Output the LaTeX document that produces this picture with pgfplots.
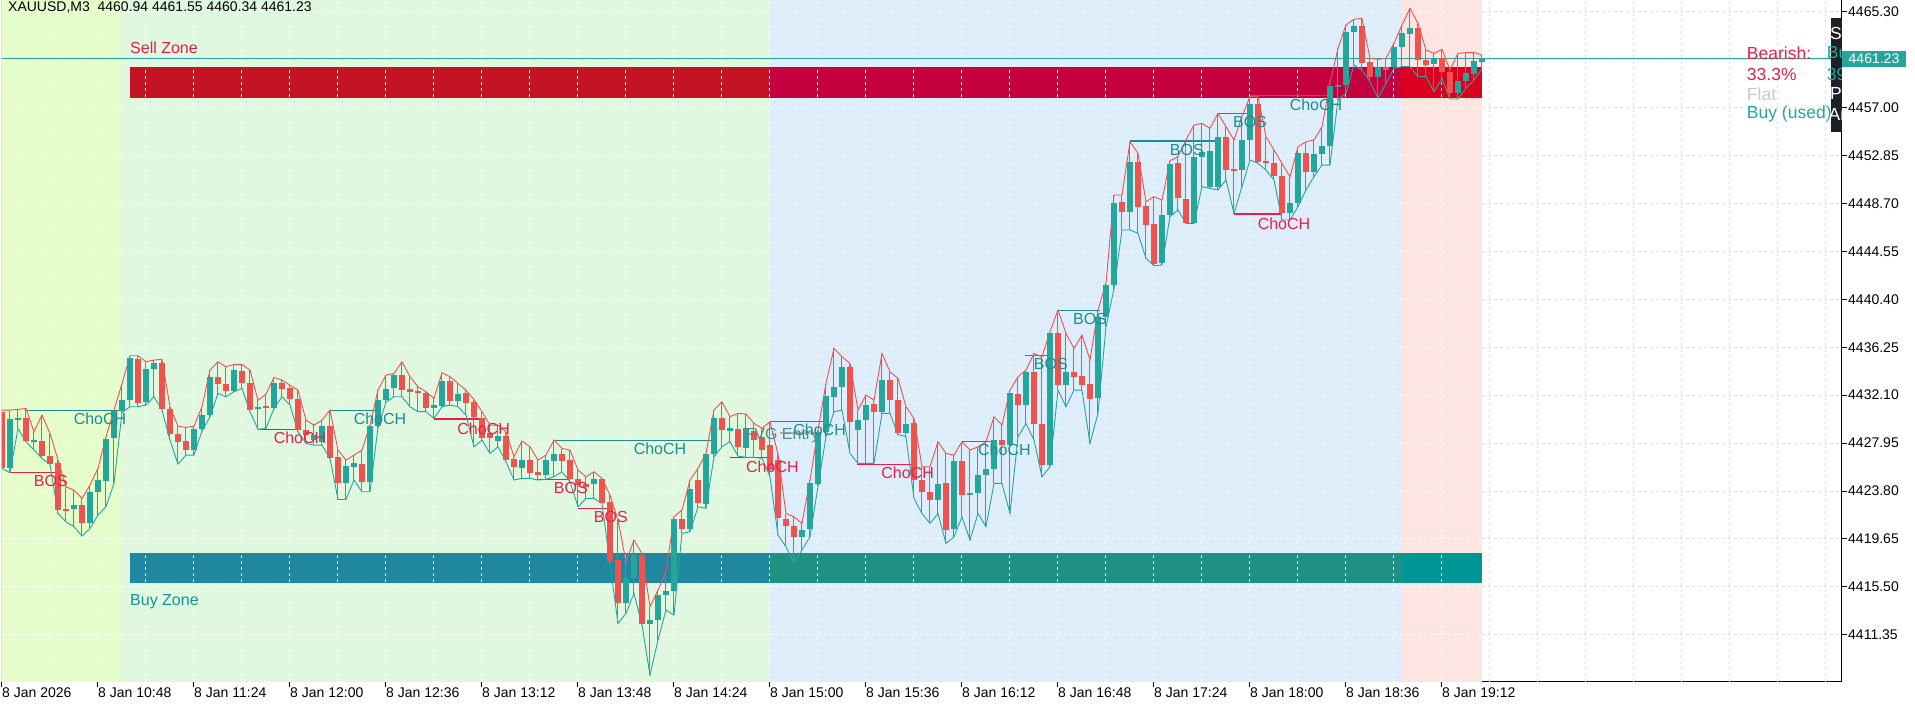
\documentclass[border=0pt]{standalone}
\usepackage{pgfplots}
\pgfplotsset{compat=1.18}
\usepackage{pgfplotstable}
\usepackage{fontspec}
\setmainfont{Liberation Sans}
\definecolor{bgY}{RGB}{229,252,203}
\definecolor{bgG}{RGB}{224,247,224}
\definecolor{bgB}{RGB}{222,237,250}
\definecolor{bgP}{RGB}{253,230,226}
\definecolor{bull}{HTML}{26A69A}
\definecolor{bear}{HTML}{EF5350}
\definecolor{envR}{RGB}{240,80,80}
\definecolor{envT}{RGB}{38,166,154}
\definecolor{sz1}{RGB}{196,20,36}
\definecolor{sz2}{RGB}{196,0,62}
\definecolor{sz3}{RGB}{220,0,32}
\definecolor{bz1}{RGB}{31,135,160}
\definecolor{bz2}{RGB}{31,145,130}
\definecolor{bz3}{RGB}{0,150,150}
\definecolor{lblT}{RGB}{30,140,140}
\definecolor{lblR}{RGB}{232,30,75}
\definecolor{gridG}{RGB}{228,228,228}
\definecolor{fvg}{RGB}{80,140,140}
\definecolor{panel}{RGB}{30,32,40}
\definecolor{flat}{RGB}{200,200,200}
\definecolor{buyT}{RGB}{20,150,150}

\pgfplotstableread{
i o h l c
-12 4430.67 4430.81 4425.76 4425.82
-11 4425.82 4430.81 4425.38 4430.03
-10 4430.03 4430.87 4429.22 4430.10
-9 4430.17 4430.95 4428.07 4428.15
-8 4428.12 4428.93 4427.35 4428.18
-7 4428.12 4430.38 4426.62 4426.83
-6 4426.88 4428.79 4426.11 4426.16
-5 4426.22 4426.48 4421.86 4422.15
-4 4422.24 4424.17 4421.14 4422.18
-3 4422.21 4423.88 4420.71 4422.58
-2 4422.58 4423.16 4419.90 4421.05
-1 4421.05 4424.32 4420.56 4423.74
0 4423.74 4425.76 4421.72 4424.75
1 4424.69 4428.50 4422.44 4428.36
2 4428.36 4430.81 4424.46 4430.75
3 4430.75 4433.10 4430.60 4431.68
4 4431.68 4435.51 4431.10 4435.34
5 4435.28 4435.51 4431.10 4431.44
6 4431.53 4435.00 4431.24 4434.36
7 4434.33 4435.14 4431.96 4434.85
8 4434.91 4435.20 4430.81 4430.95
9 4430.95 4431.10 4428.21 4428.79
10 4428.79 4429.42 4426.13 4428.07
11 4428.12 4429.31 4426.91 4427.35
12 4427.35 4429.42 4426.91 4429.14
13 4429.14 4431.10 4429.00 4430.38
14 4430.38 4434.27 4430.23 4433.64
15 4433.64 4434.99 4432.25 4433.03
16 4433.03 4434.56 4431.96 4432.48
17 4432.48 4434.76 4432.40 4434.27
18 4434.22 4434.76 4432.69 4433.20
19 4433.20 4434.27 4430.67 4430.87
20 4430.87 4431.67 4429.14 4431.10
21 4431.16 4432.19 4429.22 4431.01
22 4431.01 4433.64 4430.95 4433.18
23 4433.18 4433.40 4431.96 4432.69
24 4432.74 4432.97 4431.24 4431.82
25 4431.82 4432.54 4428.93 4429.08
26 4429.08 4429.94 4427.92 4428.65
27 4428.21 4429.51 4427.78 4428.65
28 4428.07 4429.94 4427.78 4429.42
29 4429.42 4430.81 4426.62 4426.71
30 4426.71 4427.35 4423.07 4424.52
31 4424.52 4426.48 4423.07 4425.96
32 4425.90 4426.91 4424.75 4426.19
33 4426.19 4427.35 4423.74 4424.60
34 4424.60 4429.51 4423.74 4429.42
35 4429.42 4432.54 4429.30 4431.68
36 4431.68 4433.84 4431.50 4432.69
37 4432.69 4433.98 4431.96 4433.84
38 4433.84 4434.99 4431.96 4432.54
39 4432.60 4433.70 4431.10 4432.40
40 4432.48 4432.83 4430.67 4432.25
41 4432.31 4432.40 4430.67 4430.95
42 4430.95 4431.82 4430.09 4431.21
43 4431.21 4434.04 4431.10 4433.32
44 4433.32 4433.70 4431.24 4431.62
45 4431.62 4433.12 4431.10 4432.19
46 4432.25 4432.54 4430.38 4431.44
47 4431.47 4431.73 4427.63 4430.17
48 4430.17 4430.67 4428.21 4428.36
49 4428.79 4429.51 4427.06 4428.36
50 4428.15 4429.51 4427.63 4428.59
51 4428.59 4428.93 4426.34 4426.54
52 4426.54 4426.77 4424.75 4425.85
53 4425.82 4428.13 4424.90 4426.48
54 4426.48 4427.64 4424.90 4425.39
55 4425.47 4426.48 4424.75 4425.18
56 4425.18 4426.92 4424.81 4426.48
57 4426.43 4428.22 4425.04 4427.00
58 4427.00 4427.49 4425.47 4426.43
59 4426.48 4427.35 4424.61 4424.81
60 4424.81 4425.62 4422.44 4424.32
61 4424.41 4425.04 4423.16 4424.12
62 4424.41 4425.47 4423.16 4424.81
63 4424.81 4424.90 4422.73 4422.79
64 4422.88 4423.45 4417.50 4417.68
65 4417.83 4421.29 4412.34 4414.13
66 4414.13 4417.68 4413.21 4416.24
67 4416.24 4419.56 4414.94 4418.26
68 4418.26 4418.40 4412.20 4412.29
69 4412.29 4413.79 4407.87 4412.63
70 4412.63 4415.23 4410.90 4414.80
71 4414.80 4416.82 4413.50 4415.17
72 4415.17 4421.58 4413.06 4421.43
73 4421.43 4422.16 4420.13 4420.51
74 4420.51 4424.75 4420.28 4424.03
75 4424.75 4425.76 4422.44 4422.73
76 4422.73 4427.06 4422.30 4427.00
77 4427.00 4430.81 4426.77 4430.09
78 4430.09 4431.53 4427.64 4429.08
79 4429.02 4430.24 4428.07 4429.23
80 4429.17 4430.52 4426.83 4427.64
81 4427.55 4430.47 4426.71 4429.23
82 4429.02 4429.66 4426.71 4428.22
83 4428.50 4429.23 4426.63 4427.35
84 4427.78 4429.80 4425.04 4425.62
85 4426.48 4427.00 4420.00 4421.43
86 4421.43 4421.86 4418.97 4420.76
87 4420.80 4421.57 4417.57 4419.84
88 4419.84 4421.00 4418.70 4420.48
89 4420.48 4424.75 4419.84 4424.46
90 4424.46 4429.08 4424.20 4428.93
91 4428.93 4433.12 4428.50 4432.02
92 4431.96 4436.15 4430.66 4432.83
93 4432.83 4435.42 4430.81 4434.56
94 4434.56 4434.85 4427.06 4429.80
95 4429.08 4430.81 4426.19 4430.00
96 4429.94 4432.11 4426.19 4431.24
97 4431.33 4431.67 4426.19 4430.66
98 4430.66 4435.71 4430.52 4433.40
99 4433.40 4434.13 4430.52 4431.67
100 4431.67 4433.55 4428.70 4428.85
101 4428.85 4431.10 4428.50 4429.65
102 4429.65 4430.09 4423.16 4424.75
103 4424.75 4425.90 4421.86 4423.74
104 4423.74 4425.90 4421.00 4423.07
105 4423.07 4428.07 4421.86 4424.46
106 4424.46 4427.06 4419.26 4420.42
107 4420.56 4426.91 4419.84 4426.42
108 4426.42 4428.07 4421.57 4423.45
109 4423.50 4427.34 4419.55 4423.68
110 4423.65 4427.63 4421.86 4425.18
111 4425.18 4428.07 4420.71 4425.76
112 4425.76 4430.23 4424.46 4428.21
113 4428.21 4429.51 4424.46 4427.78
114 4427.78 4432.54 4421.86 4432.25
115 4432.25 4433.69 4428.50 4431.24
116 4431.24 4434.27 4429.65 4434.13
117 4434.13 4435.71 4428.21 4429.65
118 4429.65 4435.42 4425.04 4426.05
119 4426.05 4437.60 4425.90 4437.45
120 4437.45 4439.47 4432.54 4432.97
121 4432.97 4437.45 4431.10 4434.13
122 4434.13 4436.15 4432.54 4433.69
123 4433.75 4437.30 4432.54 4432.97
124 4433.06 4435.14 4427.92 4431.82
125 4431.82 4439.47 4430.52 4438.89
126 4438.89 4441.80 4438.02 4441.63
127 4441.63 4449.43 4441.30 4448.71
128 4448.85 4449.43 4446.40 4447.98
129 4447.98 4454.04 4446.40 4452.31
130 4452.25 4453.04 4446.11 4448.42
131 4448.47 4448.85 4443.94 4446.83
132 4446.92 4449.28 4443.30 4443.51
133 4443.51 4448.99 4443.37 4447.70
134 4447.70 4452.40 4447.55 4452.17
135 4452.17 4452.75 4448.13 4449.14
136 4449.14 4454.19 4446.97 4447.03
137 4447.03 4455.49 4446.97 4452.75
138 4452.75 4455.63 4450.15 4453.18
139 4450.15 4455.20 4450.00 4453.24
140 4450.15 4456.50 4449.86 4454.48
141 4454.48 4455.34 4450.73 4451.59
142 4451.68 4454.19 4447.84 4451.48
143 4451.59 4456.21 4450.15 4454.19
144 4454.19 4457.94 4452.46 4457.31
145 4457.31 4457.94 4452.17 4452.31
146 4452.37 4454.48 4451.59 4452.23
147 4452.25 4453.32 4450.73 4451.10
148 4451.10 4452.17 4447.26 4447.84
149 4447.84 4451.01 4447.26 4448.71
150 4448.71 4453.61 4448.42 4453.04
151 4453.04 4454.04 4449.86 4451.45
152 4451.45 4454.19 4451.01 4452.98
153 4452.98 4455.34 4452.02 4453.67
154 4453.67 4459.10 4452.02 4458.86
155 4458.75 4462.13 4457.65 4458.95
156 4458.95 4464.15 4458.23 4463.57
157 4463.57 4464.64 4460.68 4464.06
158 4464.06 4464.72 4460.25 4460.83
159 4460.97 4461.26 4459.24 4459.67
160 4459.67 4461.17 4457.80 4460.54
161 4460.48 4461.26 4459.10 4460.25
162 4460.54 4462.56 4460.39 4462.27
163 4462.27 4464.15 4460.54 4463.42
164 4463.34 4465.59 4460.54 4463.86
165 4463.86 4464.29 4459.67 4461.12
166 4461.12 4461.98 4459.67 4460.68
167 4460.74 4461.69 4458.37 4461.20
168 4461.26 4462.04 4459.53 4460.10
169 4460.10 4460.25 4457.74 4458.29
170 4458.23 4461.69 4457.74 4459.30
171 4459.30 4461.75 4458.66 4460.02
172 4459.90 4461.78 4459.38 4461.06
173 4460.94 4461.55 4460.34 4461.23
}\candles

\pgfplotsset{
  candle/.style={only marks, mark=*, mark size=0pt, mark options={draw=none, fill=none}, forget plot},
}

\begin{document}
\begin{tikzpicture}
\useasboundingbox (0,0) rectangle (1915pt,706pt);
\begin{axis}[
  at={(2pt,24pt)}, anchor=south west,
  scale only axis, width=1840pt, height=682pt,
  xmin=-12, xmax=218, ymin=4407.27, ymax=4466.31,
  axis x line*=bottom, axis y line*=right,
  axis line style={black, line width=1pt},
  tick align=outside, major tick length=5pt,
  tick style={black, line width=1pt},
  xtick={-12,0,12,24,36,48,60,72,84,96,108,120,132,144,156,168},
  xticklabels={8 Jan 2026,8 Jan 10:48,8 Jan 11:24,8 Jan 12:00,8 Jan 12:36,8 Jan 13:12,8 Jan 13:48,8 Jan 14:24,8 Jan 15:00,8 Jan 15:36,8 Jan 16:12,8 Jan 16:48,8 Jan 17:24,8 Jan 18:00,8 Jan 18:36,8 Jan 19:12},
  ytick={4411.35,4415.50,4419.65,4423.80,4427.95,4432.10,4436.25,4440.40,4444.55,4448.70,4452.85,4457.00,4461.15,4465.30},
  yticklabels={4411.35,4415.50,4419.65,4423.80,4427.95,4432.10,4436.25,4440.40,4444.55,4448.70,4452.85,4457.00,{},4465.30},
  xticklabel style={anchor=north west, inner sep=0pt, font=\fontsize{14}{16}\selectfont, yshift=-1pt},
  yticklabel style={anchor=west, inner sep=0pt, font=\fontsize{14}{16}\selectfont, xshift=1pt},
  /pgf/number format/assume math mode=true,
]
% backgrounds
\fill[bgY] (axis cs:-12,4407.27) rectangle (axis cs:3,4466.31);
\fill[bgG] (axis cs:3,4407.27) rectangle (axis cs:84,4466.31);
\fill[bgB] (axis cs:84,4407.27) rectangle (axis cs:163,4466.31);
\fill[bgP] (axis cs:163,4407.27) rectangle (axis cs:173,4466.31);
% grid
\pgfplotsinvokeforeach{-6,0,6,...,168}{
  \draw[white, dash pattern=on 3pt off 3pt, line width=1pt] (axis cs:#1,4407.27) -- (axis cs:#1,4466.31);
}
\pgfplotsinvokeforeach{174,180,...,216}{
  \draw[gridG, dash pattern=on 3pt off 3pt, line width=1pt] (axis cs:#1,4407.27) -- (axis cs:#1,4466.31);
}
\pgfplotsinvokeforeach{4411.35,4415.50,4419.65,4423.80,4427.95,4432.10,4436.25,4440.40,4444.55,4448.70,4452.85,4457.00,4461.15,4465.30}{
  \draw[white, dash pattern=on 3pt off 3pt, line width=1pt] (axis cs:-12,#1) -- (axis cs:173,#1);
  \draw[gridG, dash pattern=on 3pt off 3pt, line width=1pt] (axis cs:173,#1) -- (axis cs:218,#1);
}
% zones
\fill[sz1] (axis cs:4,4457.85) rectangle (axis cs:84,4460.51);
\fill[sz2] (axis cs:84,4457.85) rectangle (axis cs:163,4460.51);
\fill[sz3] (axis cs:163,4457.85) rectangle (axis cs:173,4460.51);
\fill[bz1] (axis cs:4,4415.84) rectangle (axis cs:84,4418.41);
\fill[bz2] (axis cs:84,4415.84) rectangle (axis cs:163,4418.41);
\fill[bz3] (axis cs:163,4415.84) rectangle (axis cs:173,4418.41);
\pgfplotsinvokeforeach{6,12,...,168}{
  \draw[white, dash pattern=on 3pt off 3pt, line width=1pt] (axis cs:#1,4457.95) -- (axis cs:#1,4460.41);
  \draw[white, dash pattern=on 3pt off 3pt, line width=1pt] (axis cs:#1,4415.94) -- (axis cs:#1,4418.31);
}
\node[anchor=west, inner sep=0pt, text=lblR, font=\fontsize{16}{18}\selectfont] at (axis cs:4,4462.15) {Sell Zone};
\node[anchor=west, inner sep=0pt, text=buyT, font=\fontsize{16}{18}\selectfont] at (axis cs:4,4414.19) {Buy Zone};
% current price line
\draw[envT, line width=1pt] (axis cs:-12,4461.23) -- (axis cs:218,4461.23);
% structure lines
\draw[lblT, line width=1.2pt] (axis cs:-8.9,4430.78) -- (axis cs:3.2,4430.78);
\draw[lblT, line width=1.2pt] (axis cs:29,4430.78) -- (axis cs:35,4430.78);
\draw[lblT, line width=1.2pt] (axis cs:57,4428.16) -- (axis cs:76.9,4428.16);
\draw[lblT, line width=1.2pt] (axis cs:84,4429.80) -- (axis cs:90.9,4429.80);
\draw[lblT, line width=1.2pt] (axis cs:108,4428.07) -- (axis cs:111.9,4428.07);
\draw[lblT, line width=1.2pt] (axis cs:115.9,4435.51) -- (axis cs:118.8,4435.51);
\draw[lblT, line width=1.2pt] (axis cs:120,4439.41) -- (axis cs:125.3,4439.41);
\draw[lblT, line width=1.2pt] (axis cs:129,4454.10) -- (axis cs:140,4454.10);
\draw[lblT, line width=1.2pt] (axis cs:140,4456.50) -- (axis cs:143.9,4456.50);
\draw[lblT, line width=1.2pt] (axis cs:144,4458.03) -- (axis cs:153.9,4458.03);
\draw[lblR, line width=1.2pt] (axis cs:-11,4425.41) -- (axis cs:-5,4425.41);
\draw[lblR, line width=1.2pt] (axis cs:20,4429.14) -- (axis cs:25,4429.14);
\draw[lblR, line width=1.2pt] (axis cs:42,4430.03) -- (axis cs:48.2,4430.03);
\draw[lblR, line width=1.2pt] (axis cs:55,4424.81) -- (axis cs:59,4424.81);
\draw[lblR, line width=1.2pt] (axis cs:60,4422.30) -- (axis cs:64,4422.30);
\draw[lblR, line width=1.2pt] (axis cs:79,4426.71) -- (axis cs:84,4426.71);
\draw[lblR, line width=1.2pt] (axis cs:94.9,4426.10) -- (axis cs:101.8,4426.10);
\draw[lblR, line width=1.2pt] (axis cs:142,4447.78) -- (axis cs:148,4447.78);
\draw[gray!60, line width=2pt] (axis cs:85.3,4428.84) -- (axis cs:90.2,4428.84);
% envelopes
\addplot[envR, line width=0.9pt, mark=none, forget plot] table[x=i, y=h] {\candles};
\addplot[envT, line width=0.9pt, mark=none, forget plot] table[x=i, y=l] {\candles};
% candles: wicks
\addplot[candle, restrict expr to domain={\thisrow{c}-\thisrow{o}}{0:1000},
  error bars/.cd, y dir=both, y explicit, error mark=none, error bar style={draw=bull, line width=1pt}]
  table[x=i, y expr={(\thisrow{h}+\thisrow{l})/2}, y error expr={(\thisrow{h}-\thisrow{l})/2}] {\candles};
\addplot[candle, restrict expr to domain={\thisrow{o}-\thisrow{c}}{0.0001:1000},
  error bars/.cd, y dir=both, y explicit, error mark=none, error bar style={draw=bear, line width=1pt}]
  table[x=i, y expr={(\thisrow{h}+\thisrow{l})/2}, y error expr={(\thisrow{h}-\thisrow{l})/2}] {\candles};
% candles: bodies
\addplot[candle, restrict expr to domain={\thisrow{c}-\thisrow{o}}{0:1000},
  error bars/.cd, y dir=both, y explicit, error mark=none, error bar style={draw=bull, line width=5.5pt}]
  table[x=i, y expr={(\thisrow{o}+\thisrow{c})/2}, y error expr={max(abs(\thisrow{c}-\thisrow{o})/2,0.045)}] {\candles};
\addplot[candle, restrict expr to domain={\thisrow{o}-\thisrow{c}}{0.0001:1000},
  error bars/.cd, y dir=both, y explicit, error mark=none, error bar style={draw=bear, line width=5.5pt}]
  table[x=i, y expr={(\thisrow{o}+\thisrow{c})/2}, y error expr={max(abs(\thisrow{c}-\thisrow{o})/2,0.045)}] {\candles};
% labels
\begin{scope}[every node/.style={inner sep=0pt, font=\fontsize{16}{18}\selectfont}]
\node[text=lblT] at (axis cs:0.25,4430.03) {ChoCH};
\node[text=lblT] at (axis cs:35.25,4430.03) {ChoCH};
\node[text=lblT] at (axis cs:70.25,4427.44) {ChoCH};
\node[text=lblT] at (axis cs:90.2,4429.08) {ChoCH};
\node[text=lblT] at (axis cs:113.3,4427.34) {ChoCH};
\node[text=lblT] at (axis cs:152.25,4457.28) {ChoCH};
\node[text=lblT] at (axis cs:119.1,4434.79) {BOS};
\node[text=lblT] at (axis cs:124,4438.66) {BOS};
\node[text=lblT] at (axis cs:136.1,4453.32) {BOS};
\node[text=lblT] at (axis cs:144,4455.72) {BOS};
\node[text=lblR] at (axis cs:25.25,4428.41) {ChoCH};
\node[text=lblR] at (axis cs:48.2,4429.22) {ChoCH};
\node[text=lblR] at (axis cs:84.3,4425.90) {ChoCH};
\node[text=lblR] at (axis cs:101.2,4425.38) {ChoCH};
\node[text=lblR] at (axis cs:148.25,4446.97) {ChoCH};
\node[text=lblR] at (axis cs:-5.9,4424.66) {BOS};
\node[text=lblR] at (axis cs:59.1,4424.03) {BOS};
\node[text=lblR] at (axis cs:64.1,4421.55) {BOS};
\node[text=fvg] at (axis cs:85.5,4428.64) {FVG Entry};
\end{scope}
% header
\node[anchor=west, inner sep=0pt, font=\fontsize{14}{16}\selectfont] at (axis cs:-11.25,4465.62) {XAUUSD,M3\ \ 4460.94 4461.55 4460.34 4461.23};
% right info panel
\begin{scope}[every node/.style={anchor=west, inner sep=0pt, font=\fontsize{17.5}{20}\selectfont}]
\node[text=lblR] at (axis cs:206.1,4461.72) {Bearish:};
\node[text=lblR] at (axis cs:206.1,4459.82) {33.3\%};
\node[text=flat] at (axis cs:206.1,4458.17) {Flat};
\node[text=bull] at (axis cs:206.1,4456.44) {Buy (used)};
\end{scope}
\begin{scope}
\clip (axis cs:210,4454) rectangle (axis cs:218,4466);
\fill[panel] (axis cs:216.6,4454.88) rectangle (axis cs:218,4464.75);
\begin{scope}[every node/.style={anchor=west, inner sep=0pt, font=\fontsize{17.5}{20}\selectfont}]
\node[text=white] at (axis cs:216.5,4463.45) {St};
\node[text=bull] at (axis cs:216.1,4461.72) {Bu};
\node[text=bull] at (axis cs:216.1,4459.82) {39};
\node[text=white] at (axis cs:216.5,4458.17) {Po};
\node[text=white] at (axis cs:216.3,4456.44) {Ar};
\end{scope}
\end{scope}
% left frame line
\draw[black, line width=1pt] (rel axis cs:0,0) -- (rel axis cs:0,1);
\coordinate (pricebox) at (axis cs:218,4461.23);
\end{axis}
% current price box on the price scale
\node[fill=bull, text=white, anchor=west, inner xsep=6.5pt, inner ysep=0pt, minimum height=16pt, font=\fontsize{14}{16}\selectfont] at (pricebox) {4461.23};
\end{tikzpicture}
\end{document}
